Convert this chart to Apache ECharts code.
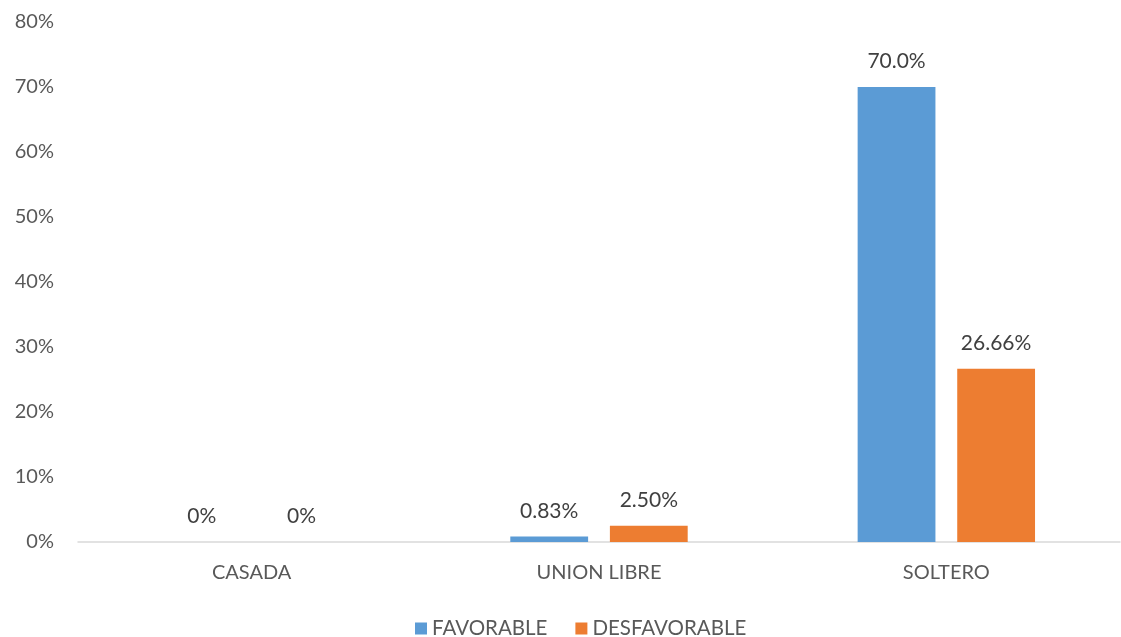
<!DOCTYPE html>
<html>
<head>
<meta charset="utf-8">
<script src="https://cdn.jsdelivr.net/npm/echarts@6/dist/echarts.min.js"></script>
<style>
  html, body { margin: 0; padding: 0; background: #ffffff; }
  #chart { width: 1121px; height: 637px; }
</style>
</head>
<body>
<div id="chart"></div>
<script>
// Estado civil vs. resultado
const categories = ['CASADA', 'UNION LIBRE', 'SOLTERO'];
const favorable = [0, 0.83, 70.0];
const desfavorable = [0, 2.50, 26.66];
const favorableLabels = ['0%', '0.83%', '70.0%'];
const desfavorableLabels = ['0%', '2.50%', '26.66%'];
const yTicks = [0, 10, 20, 30, 40, 50, 60, 70, 80];

const FONT = 'Lato, "Open Sans", sans-serif';
const TEXT = '#595959';

const chart = echarts.init(document.getElementById('chart'));

function labelCfg(texts) {
  return {
    show: true,
    position: 'top',
    distance: 15,
    color: '#404040',
    fontFamily: FONT,
    fontSize: 21,
    formatter: p => texts[p.dataIndex]
  };
}

chart.setOption({
  animation: false,
  textStyle: { fontFamily: FONT },
  grid: { left: 78, right: 1, top: 22, bottom: 95 },
  legend: {
    top: 613,
    left: 410,
    itemWidth: 12,
    itemHeight: 12,
    itemGap: 28,
    icon: 'rect',
    textStyle: { color: TEXT, fontSize: 20.5, fontFamily: FONT },
    data: ['FAVORABLE', 'DESFAVORABLE']
  },
  xAxis: {
    type: 'category',
    data: categories,
    axisLine: { lineStyle: { color: '#d9d9d9', width: 1.5 } },
    axisTick: { show: false },
    axisLabel: { color: TEXT, fontSize: 20, fontFamily: FONT, margin: 21 }
  },
  yAxis: {
    type: 'value',
    min: yTicks[0],
    max: yTicks[yTicks.length - 1],
    interval: 10,
    splitLine: { show: false },
    axisLine: { show: false },
    axisTick: { show: false },
    axisLabel: {
      color: TEXT, fontSize: 20, fontFamily: FONT, margin: 24,
      formatter: v => v + '%'
    }
  },
  series: [
    {
      name: 'FAVORABLE',
      type: 'bar',
      data: favorable,
      barWidth: '22.4%',
      barGap: '28%',
      itemStyle: { color: '#5B9BD5' },
      label: labelCfg(favorableLabels)
    },
    {
      name: 'DESFAVORABLE',
      type: 'bar',
      data: desfavorable,
      barWidth: '22.4%',
      itemStyle: { color: '#ED7D31' },
      label: labelCfg(desfavorableLabels)
    }
  ]
});
</script>
</body>
</html>
